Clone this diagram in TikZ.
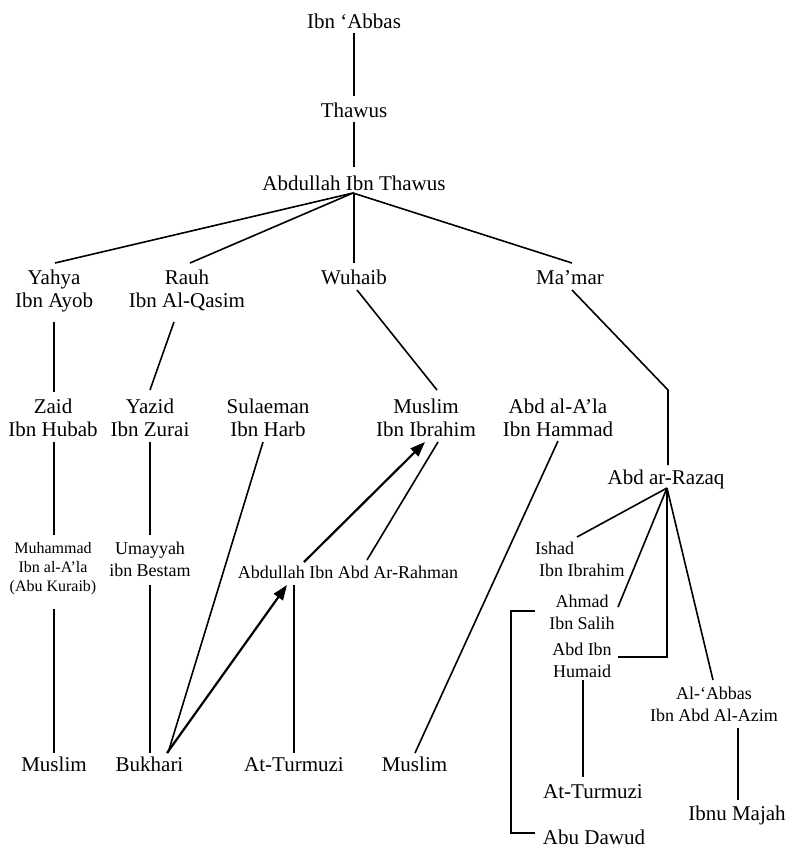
\documentclass[tikz,border=0pt]{standalone}
\usepackage{fontspec}
\setmainfont{Liberation Serif}
\usetikzlibrary{arrows.meta}
\begin{document}
\begin{tikzpicture}[x=1pt,y=-1pt,
  big/.style={font=\fontsize{21}{23.5}\selectfont, align=center, inner sep=0pt, anchor=base},
  mid/.style={font=\fontsize{18}{22}\selectfont, align=center, inner sep=0pt, anchor=base},
  small/.style={font=\fontsize{16}{19}\selectfont, align=center, inner sep=0pt, anchor=base},
  link/.style={line width=1.6pt},
  arr/.style={line width=2.2pt, -{Triangle[length=15pt,width=11pt]}}]
\useasboundingbox (0,0) rectangle (790,847);

% nodes (positioned at the baseline of their last line)
\node[big] (abbas) at (354,28) {Ibn ‘Abbas};
\node[big] (thawus) at (354,117) {Thawus};
\node[big] (ait) at (354,190) {Abdullah Ibn Thawus};
\node[big] (yahya) at (54,307.5) {Yahya\\Ibn Ayob};
\node[big] (rauh) at (187,307.5) {Rauh\\Ibn Al-Qasim};
\node[big] (wuhaib) at (354,284) {Wuhaib};
\node[big] (mamar) at (570,284) {Ma’mar};
\node[big] (zaid) at (53,436.5) {Zaid\\Ibn Hubab};
\node[big] (yazid) at (150,436.5) {Yazid\\Ibn Zurai};
\node[big] (sulaeman) at (268,436.5) {Sulaeman\\Ibn Harb};
\node[big] (muslimii) at (426,436.5) {Muslim\\Ibn Ibrahim};
\node[big] (abdala) at (558,436.5) {Abd al-A’la\\Ibn Hammad};
\node[big] (razaq) at (666,484) {Abd ar-Razaq};
\node[small] (muhammad) at (53,591) {Muhammad\\Ibn al-A’la\\(Abu Kuraib)};
\node[mid] (umayyah) at (150,576) {Umayyah\\ibn Bestam};
\node[mid] (aiar) at (348,578) {Abdullah Ibn Abd Ar-Rahman};
\node[mid, align=left, anchor=base west] (ishad) at (535,576) {Ishad\\\hspace*{4pt}Ibn Ibrahim};
\node[mid] (ahmad) at (582,629) {Ahmad\\Ibn Salih};
\node[mid] (humaid) at (582,677) {Abd Ibn\\Humaid};
\node[mid] (alabbas) at (714,721) {Al-‘Abbas\\Ibn Abd Al-Azim};
\node[big] (muslima) at (54,771) {Muslim};
\node[big] (bukhari) at (149.5,771) {Bukhari};
\node[big] (turmuzia) at (294,771) {At-Turmuzi};
\node[big] (muslimb) at (414.5,771) {Muslim};
\node[big] (turmuzib) at (593,798) {At-Turmuzi};
\node[big] (majah) at (737,820) {Ibnu Majah};
\node[big] (dawud) at (594,844) {Abu Dawud};

% connectors
\draw[link] ([shift={(0,5)}]abbas.base) -- ([shift={(0,-21)}]thawus.base);
\draw[link] ([shift={(0,5)}]thawus.base) -- ([shift={(0,-23)}]ait.base);
\draw[link] ([shift={(-1,3)}]ait.base) -- ([shift={(1,-44.5)}]yahya.base);
\draw[link] ([shift={(-1,3)}]ait.base) -- ([shift={(3,-44.5)}]rauh.base);
\draw[link] ([shift={(0,3)}]ait.base) -- ([shift={(0,-21)}]wuhaib.base);
\draw[link] ([shift={(-1,3)}]ait.base) -- ([shift={(2,-21)}]mamar.base);
\draw[link] ([shift={(0,14.5)}]yahya.base) -- ([shift={(1,-44.5)}]zaid.base);
\draw[link] ([shift={(-13,14.5)}]rauh.base) -- ([shift={(0,-46.5)}]yazid.base);
\draw[link] ([shift={(3,6)}]wuhaib.base) -- ([shift={(11,-46.5)}]muslimii.base);
\draw[link] ([shift={(2,6)}]mamar.base) -- (668,390) -- ([shift={(2,-19)}]razaq.base);
\draw[link] ([shift={(1,5.5)}]zaid.base) -- ([shift={(1,-56)}]muhammad.base);
\draw[link] ([shift={(0,5.5)}]yazid.base) -- ([shift={(0,-41)}]umayyah.base);
\draw[link] ([shift={(-5,5.5)}]sulaeman.base) -- ([shift={(18.5,-18)}]bukhari.base);
\draw[link] ([shift={(12,5.5)}]muslimii.base) -- ([shift={(19,-18)}]aiar.base);
\draw[arr] ([shift={(-44,-16)}]aiar.base) -- ([shift={(-1,5.5)}]muslimii.base);
\draw[arr] ([shift={(17.5,-18)}]bukhari.base) -- ([shift={(-61,7)}]aiar.base);
\draw[link] ([shift={(-54,7)}]aiar.base) -- ([shift={(0,-18)}]turmuzia.base);
\draw[link] ([shift={(0,4.5)}]abdala.base) -- ([shift={(0.5,-18)}]muslimb.base);
\draw[link] ([shift={(1,18)}]muhammad.base) -- ([shift={(0,-18)}]muslima.base);
\draw[link] ([shift={(0,9)}]umayyah.base) -- ([shift={(0.5,-18)}]bukhari.base);
\draw[link] ([shift={(1,4)}]razaq.base) -- ([shift={(42,-39)}]ishad.base west);
\draw[link] ([shift={(1,4)}]razaq.base) -- ([shift={(36,-22)}]ahmad.base);
\draw[link] ([shift={(1,4)}]razaq.base) -- (667,657) -- ([shift={(36,-20)}]humaid.base);
\draw[link] ([shift={(1,4)}]razaq.base) -- ([shift={(-1,-41)}]alabbas.base);
\draw[link] ([shift={(1,3)}]humaid.base) -- ([shift={(-10,-21)}]turmuzib.base);
\draw[link] ([shift={(24,7)}]alabbas.base) -- ([shift={(1,-20)}]majah.base);
\draw[link] ([shift={(-47,-18)}]ahmad.base) -- (511,611) -- (511,833) -- ([shift={(-59,-11)}]dawud.base);
\end{tikzpicture}
\end{document}
